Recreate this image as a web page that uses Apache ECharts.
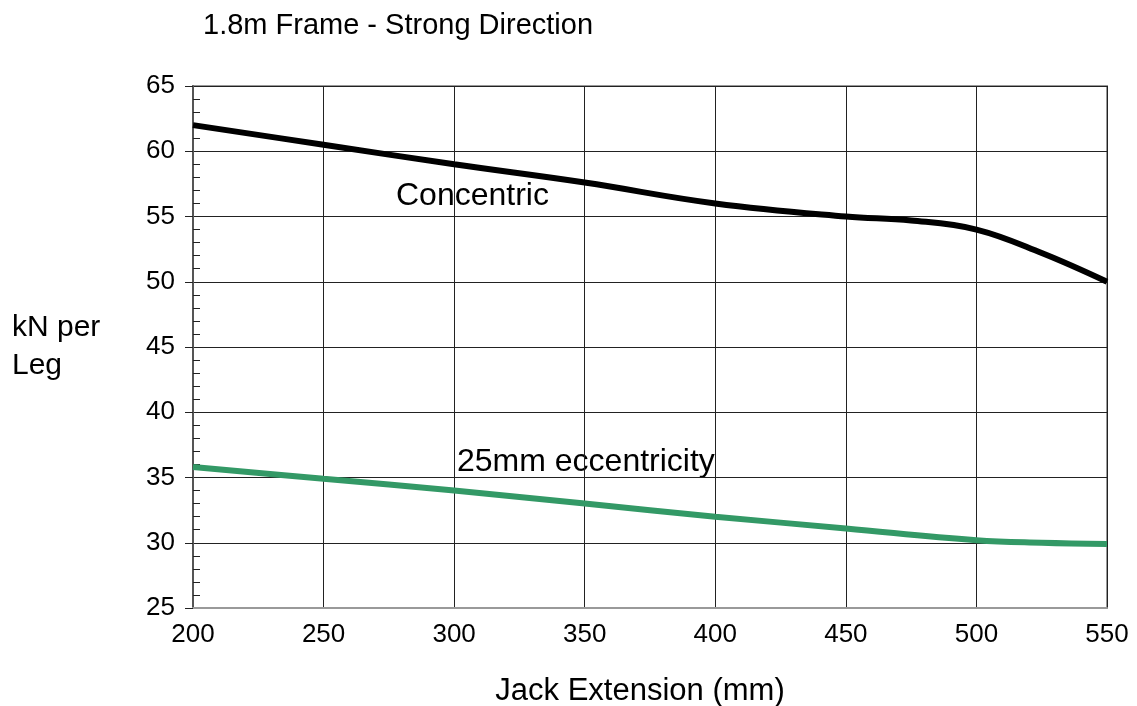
<!DOCTYPE html>
<html>
<head>
<meta charset="utf-8">
<script src="https://cdn.jsdelivr.net/npm/echarts@6/dist/echarts.min.js"></script>
<style>
  html, body { margin: 0; padding: 0; background: #fff; }
  #chart { width: 1137px; height: 706px; }
</style>
</head>
<body>
<div id="chart"></div>
<script>
// jack extension (mm)
const extConcentric = [200, 250, 300, 350, 400, 450, 475, 500, 525, 550];
const concentric = [62, 60.5, 59, 57.6, 56, 55, 54.7, 54, 52.2, 50];
const extEccentric = [200, 250, 300, 350, 400, 450, 500, 525, 550];
const eccentric = [35.8, 34.9, 34, 33, 32, 31.1, 30.2, 30, 29.9];

const chart = echarts.init(document.getElementById('chart'));
const font = 'Liberation Sans, Arial, sans-serif';

const option = {
  animation: false,
  title: {
    text: '1.8m Frame - Strong Direction',
    left: 198, top: 6,
    textStyle: { fontFamily: font, fontSize: 29, fontWeight: 'normal', color: '#000' }
  },
  grid: {
    left: 193, right: 30, top: 86, bottom: 98,
    outerBoundsMode: 'none', containLabel: false,
    show: true, borderColor: '#999', borderWidth: 2
  },
  xAxis: {
    type: 'value', min: 200, max: 550, interval: 50,
    name: 'Jack Extension (mm)', nameLocation: 'middle', nameGap: 68,
    nameTextStyle: { fontFamily: font, fontSize: 31, color: '#000', padding: [0, 20, 0, 0] },
    axisLine: { lineStyle: { color: '#999', width: 2 } },
    axisTick: { show: false },
    axisLabel: { fontFamily: font, fontSize: 26, color: '#000', margin: 14 },
    splitLine: { lineStyle: { color: '#222', width: 1 } }
  },
  yAxis: [{
    type: 'value', min: 25, max: 65, interval: 5,
    name: 'kN per\nLeg', nameLocation: 'middle', nameRotate: 0, nameGap: 181,
    nameTextStyle: { fontFamily: font, fontSize: 30, color: '#000', align: 'left', lineHeight: 38 },
    axisLine: { show: true, lineStyle: { color: '#555', width: 2 } },
    axisTick: { show: true, length: 8, lineStyle: { color: '#222' } },
    axisLabel: { fontFamily: font, fontSize: 26, color: '#000', margin: 18 },
    splitLine: { lineStyle: { color: '#222', width: 1 } }
  }, {
    type: 'value', min: 25, max: 65, interval: 5, position: 'left',
    axisLine: { show: false },
    axisTick: { show: false, inside: true },
    axisLabel: { show: false },
    splitLine: { show: false },
    minorTick: { show: true, splitNumber: 5, length: 7, lineStyle: { color: '#222' } }
  }],
  graphic: [
    { type: 'text', left: 396, top: 180, style: { text: 'Concentric', font: '32px ' + font, fill: '#000' } },
    { type: 'text', left: 457, top: 446, style: { text: '25mm eccentricity', font: '32px ' + font, fill: '#000' } }
  ],
  series: [{
    type: 'line', smooth: 0.4, symbol: 'none',
    data: extConcentric.map((x, i) => [x, concentric[i]]),
    lineStyle: { color: '#000', width: 6 }
  }, {
    type: 'line', smooth: 0.4, symbol: 'none',
    data: extEccentric.map((x, i) => [x, eccentric[i]]),
    lineStyle: { color: '#339966', width: 6 }
  }]
};

chart.setOption(option);
</script>
</body>
</html>
